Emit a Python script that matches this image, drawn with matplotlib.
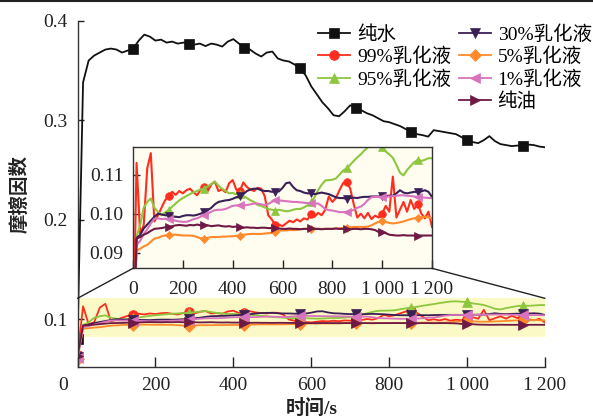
import numpy as np
import matplotlib
matplotlib.use("Agg")
import matplotlib.pyplot as plt
from matplotlib.lines import Line2D
from matplotlib.patches import ConnectionPatch
from matplotlib.transforms import ScaledTranslation

plt.rcParams['font.family'] = ['Liberation Serif', 'Noto Sans CJK SC']
plt.rcParams['axes.unicode_minus'] = False

# ---------------- data ----------------
time_s = np.linspace(0, 1200, 85)

water = [0.080, 0.338, 0.360, 0.365, 0.368, 0.371, 0.372, 0.371, 0.368, 0.370,
         0.372, 0.380, 0.386, 0.384, 0.380, 0.381, 0.378, 0.379, 0.377, 0.378,
         0.377, 0.376, 0.377, 0.3745, 0.377, 0.376, 0.374, 0.379, 0.3815, 0.377,
         0.373, 0.371, 0.367, 0.364, 0.368, 0.369, 0.362, 0.360, 0.359, 0.356,
         0.352, 0.345, 0.334, 0.326, 0.318, 0.312, 0.305, 0.304, 0.309, 0.315,
         0.312, 0.310, 0.307, 0.305, 0.302, 0.299, 0.298, 0.296, 0.294, 0.291,
         0.288, 0.286, 0.285, 0.2835, 0.290, 0.289, 0.288, 0.287, 0.286, 0.283,
         0.280, 0.278, 0.277, 0.280, 0.284, 0.279, 0.276, 0.275, 0.274, 0.2745,
         0.2745, 0.2755, 0.275, 0.2735, 0.2728]

emul99 = [0.064, 0.113, 0.095, 0.097, 0.1116, 0.1155, 0.098, 0.0995, 0.1015, 0.1034,
          0.1045, 0.1056, 0.1048, 0.1058, 0.1052, 0.1060, 0.1064, 0.1055, 0.1047, 0.1062,
          0.1069, 0.1058, 0.1075, 0.1082, 0.1058, 0.1062, 0.1055, 0.1078, 0.1086, 0.1062,
          0.1058, 0.1080, 0.1068, 0.1062, 0.1058, 0.1066, 0.1064, 0.1045, 0.0996, 0.0985,
          0.0970, 0.0972, 0.0968, 0.0975, 0.0982, 0.0978, 0.0985, 0.0980, 0.0988, 0.0985,
          0.0998, 0.0992, 0.1002, 0.0996, 0.1010, 0.1044, 0.1030, 0.1040, 0.1060, 0.1078,
          0.1082, 0.1065, 0.1025, 0.0990, 0.1000, 0.0988, 0.1002, 0.0986, 0.0995, 0.0990,
          0.1000, 0.1020, 0.1005, 0.1095, 0.0990, 0.1010, 0.1030, 0.1005, 0.1035, 0.1012,
          0.1025, 0.1000, 0.0988, 0.1005, 0.0966]

emul95 = [0.063, 0.094, 0.097, 0.1015, 0.1030, 0.1039, 0.1015, 0.1005, 0.0996, 0.1003,
          0.1009, 0.1018, 0.1026, 0.1034, 0.1040, 0.1045, 0.1050, 0.1055, 0.1058, 0.1062,
          0.1064, 0.1070, 0.1076, 0.1082, 0.1072, 0.1064, 0.1058, 0.1052, 0.1053, 0.1050,
          0.1050, 0.1045, 0.1040, 0.1034, 0.1030, 0.1022, 0.1020, 0.1016, 0.1012, 0.1010,
          0.1008, 0.1010, 0.1008, 0.1006, 0.1007, 0.1010, 0.1012, 0.1012, 0.1016, 0.1021,
          0.1030, 0.1042, 0.1060, 0.1074, 0.1085, 0.1086, 0.1087, 0.1090, 0.1100, 0.1110,
          0.1116, 0.1125, 0.1135, 0.1144, 0.1152, 0.1162, 0.1170, 0.1178, 0.1180, 0.1176,
          0.1172, 0.1159, 0.1152, 0.1143, 0.1125, 0.1105, 0.1098, 0.1112, 0.1122, 0.1132,
          0.1137, 0.1135, 0.1138, 0.1142, 0.1142]

emul30 = [0.062, 0.0938, 0.0945, 0.0962, 0.0972, 0.0982, 0.0992, 0.1000, 0.0998, 0.0996,
          0.0995, 0.0993, 0.0992, 0.0991, 0.0994, 0.0996, 0.0996, 0.0995, 0.0997, 0.1000,
          0.1004, 0.1009, 0.1015, 0.1024, 0.1030, 0.1032, 0.1034, 0.1035, 0.1038, 0.1042,
          0.1044, 0.1050, 0.1058, 0.1062, 0.1064, 0.1064, 0.1060, 0.1058, 0.1058, 0.1056,
          0.1056, 0.1057, 0.1066, 0.1078, 0.1080, 0.1068, 0.1060, 0.1058, 0.1054, 0.1052,
          0.1052, 0.1050, 0.1052, 0.1054, 0.1052, 0.1050, 0.1046, 0.1042, 0.1040, 0.1040,
          0.1038, 0.1040, 0.1041, 0.1040, 0.1042, 0.1043, 0.1043, 0.1044, 0.1044, 0.1044,
          0.1045, 0.1045, 0.1046, 0.1046, 0.1052, 0.1060, 0.1054, 0.1052, 0.1054, 0.1056,
          0.1055, 0.1057, 0.1060, 0.1056, 0.1043]

emul5 = [0.060, 0.0905, 0.0910, 0.0916, 0.0920, 0.0928, 0.0936, 0.0938, 0.0942, 0.0944,
         0.0945, 0.0946, 0.0946, 0.0945, 0.0944, 0.0944, 0.0944, 0.0943, 0.0940, 0.0937,
         0.0936, 0.0938, 0.0940, 0.0940, 0.0940, 0.0941, 0.0941, 0.0942, 0.0942, 0.0943,
         0.0944, 0.0946, 0.0947, 0.0948, 0.0948, 0.0948, 0.0948, 0.0949, 0.0950, 0.0951,
         0.0953, 0.0956, 0.0957, 0.0957, 0.0958, 0.0958, 0.0958, 0.0960, 0.0961, 0.0961,
         0.0961, 0.0961, 0.0961, 0.0961, 0.0961, 0.0961, 0.0961, 0.0962, 0.0962, 0.0963,
         0.0964, 0.0965, 0.0966, 0.0966, 0.0966, 0.0966, 0.0967, 0.0970, 0.0975, 0.0979,
         0.0980, 0.0979, 0.0976, 0.0975, 0.0976, 0.0978, 0.0980, 0.0983, 0.0986, 0.0988,
         0.0990, 0.0991, 0.0992, 0.0990, 0.0988]

emul1 = [0.061, 0.0920, 0.0930, 0.0948, 0.0960, 0.0975, 0.0987, 0.0988, 0.0986, 0.0987,
         0.0986, 0.0984, 0.0982, 0.0980, 0.0979, 0.0979, 0.0982, 0.0986, 0.0988, 0.0992,
         0.0996, 0.1000, 0.1005, 0.1009, 0.1010, 0.1010, 0.1012, 0.1016, 0.1020, 0.1021,
         0.1021, 0.1021, 0.1022, 0.1024, 0.1026, 0.1026, 0.1024, 0.1022, 0.1025, 0.1030,
         0.1034, 0.1034, 0.1033, 0.1032, 0.1031, 0.1030, 0.1030, 0.1029, 0.1028, 0.1027,
         0.1027, 0.1026, 0.1026, 0.1020, 0.1012, 0.1009, 0.1008, 0.1006, 0.1004, 0.1004,
         0.1004, 0.1006, 0.1010, 0.1015, 0.1018, 0.1025, 0.1035, 0.1042, 0.1043, 0.1043,
         0.1043, 0.1043, 0.1044, 0.1045, 0.1046, 0.1047, 0.1047, 0.1046, 0.1045, 0.1044,
         0.1043, 0.1042, 0.1041, 0.1040, 0.1040]

oil = [0.063, 0.0936, 0.0940, 0.0946, 0.0950, 0.0956, 0.0961, 0.0962, 0.0963, 0.0965,
       0.0966, 0.0968, 0.0970, 0.0971, 0.0970, 0.0969, 0.0971, 0.0970, 0.0972, 0.0970,
       0.0971, 0.0970, 0.0968, 0.0969, 0.0970, 0.0968, 0.0967, 0.0968, 0.0966, 0.0967,
       0.0965, 0.0964, 0.0965, 0.0964, 0.0964, 0.0963, 0.0964, 0.0964, 0.0963, 0.0963,
       0.0962, 0.0962, 0.0961, 0.0961, 0.0962, 0.0961, 0.0961, 0.0960, 0.0961, 0.0961,
       0.0962, 0.0961, 0.0961, 0.0960, 0.0961, 0.0961, 0.0961, 0.0962, 0.0961, 0.0961,
       0.0961, 0.0960, 0.0961, 0.0961, 0.0960, 0.0961, 0.0961, 0.0960, 0.0958, 0.0953,
       0.0952, 0.0950, 0.0946, 0.0945, 0.0944, 0.0944, 0.0945, 0.0944, 0.0944, 0.0944,
       0.0944, 0.0944, 0.0944, 0.0944, 0.0944]

labels = ['纯水', '99%乳化液', '95%乳化液', '30%乳化液', '5%乳化液', '1%乳化液', '纯油']
colors = ['#111111', '#ff2d1e', '#8dc63f', '#3b1f57', '#ff8a2b', '#d873bd', '#6e1a44']
markers = ['s', 'o', '^', 'v', 'D', '<', '>']
msizes = [7, 7, 7, 7, 6, 7, 7]
series = [water, emul99, emul95, emul30, emul5, emul1, oil]

main_xticks = [0, 200, 400, 600, 800, 1000, 1200]
main_xticklabels = ['0', '200', '400', '600', '800', '1\u2009000', '1\u2009200']
main_yticks = [0.1, 0.2, 0.3, 0.4]
main_yticklabels = ['0.1', '0.2', '0.3', '0.4']
inset_yticks = [0.09, 0.10, 0.11]
inset_yticklabels = ['0.09', '0.10', '0.11']

# ---------------- figure ----------------
fig = plt.figure(figsize=(5.93, 4.2), dpi=100)
ax = fig.add_axes([0.1307, 0.1262, 0.7884, 0.8245])

ax.axhspan(0.082, 0.121, color='#fbf9c6', zorder=0, lw=0)
handles = []
for vals, lab, c, m, ms in zip(series, labels, colors, markers, msizes):
    h, = ax.plot(time_s, vals, color=c, lw=1.3, marker=m, markersize=ms,
                 markevery=10, markeredgewidth=0.5, markeredgecolor=c, label=lab)
    handles.append(h)

ax.set_xlim(0, 1200)
ax.set_ylim(0.052, 0.4)
ax.set_xticks(main_xticks)
ax.set_xticklabels(main_xticklabels)
ax.set_yticks(main_yticks)
ax.set_yticklabels(main_yticklabels)
for s in ['top', 'right']:
    ax.spines[s].set_visible(False)
for s in ['left', 'bottom']:
    ax.spines[s].set_color('#333333')
    ax.spines[s].set_linewidth(1.0)
ax.tick_params(axis='x', direction='in', length=7, width=1, pad=7, labelsize=14, colors='#222222')
ax.tick_params(axis='y', direction='in', length=4, width=1, pad=7, labelsize=14, colors='#222222')
lab0 = ax.get_xticklabels()[0]
lab0.set_transform(lab0.get_transform() + ScaledTranslation(-0.14, 0, fig.dpi_scale_trans))

ax.set_ylabel('摩擦因数', fontsize=14, fontweight='bold', color='#222222')
ax.yaxis.set_label_coords(-0.102, 0.5)
ax.set_xlabel('时间/s', fontsize=14, fontweight='bold', color='#222222')
ax.xaxis.set_label_coords(0.5, -0.092)

# legend with blank slot to get 3 / 4 split
blank = Line2D([], [], color='none', marker=None)
leg_handles = handles[:3] + [blank] + handles[3:]
leg_labels = labels[:3] + [''] + labels[3:]
leg = fig.legend(leg_handles, leg_labels, ncol=2, frameon=False, fontsize=14,
                 loc='upper left', bbox_to_anchor=(318 / 593, 1 - 25 / 420),
                 borderpad=0, borderaxespad=0, handlelength=1.65, handletextpad=0.35,
                 columnspacing=0.4, labelspacing=0.2)

# ---------------- inset ----------------
ins = fig.add_axes([133 / 593, 1 - 268.3 / 420, 299 / 593, 121 / 420])
ins.set_facecolor('#fffcf0')
for vals, lab, c, m, ms in zip(series[1:], labels[1:], colors[1:], markers[1:], msizes[1:]):
    ins.plot(time_s, vals, color=c, lw=1.5, marker=m, markersize=ms - 1.5,
             markevery=10, markeredgewidth=0.5, markeredgecolor=c)
ins.set_xlim(0, 1200)
ins.set_ylim(0.086, 0.117)
ins.set_xticks(main_xticks)
ins.set_xticklabels(main_xticklabels)
ins.set_yticks(inset_yticks)
ins.set_yticklabels(inset_yticklabels)
for s in ins.spines.values():
    s.set_color('#333333')
    s.set_linewidth(1.0)
ins.tick_params(axis='x', direction='in', length=6, width=1, pad=9, labelsize=14, colors='#222222')
ins.tick_params(axis='y', direction='in', length=5, width=1, pad=7, labelsize=14, colors='#222222')

for xa, xb in [(0, 0), (1200, 1)]:
    cp = ConnectionPatch(xyA=(xa, 0.121), coordsA=ax.transData,
                         xyB=(xb, 0), coordsB=ins.transAxes,
                         color='#222222', lw=1.0)
    fig.add_artist(cp)

fig.add_artist(Line2D([0, 1], [0.998, 0.998], transform=fig.transFigure,
                      color='#222222', lw=1.5))

fig.savefig('out.png', dpi=100)
